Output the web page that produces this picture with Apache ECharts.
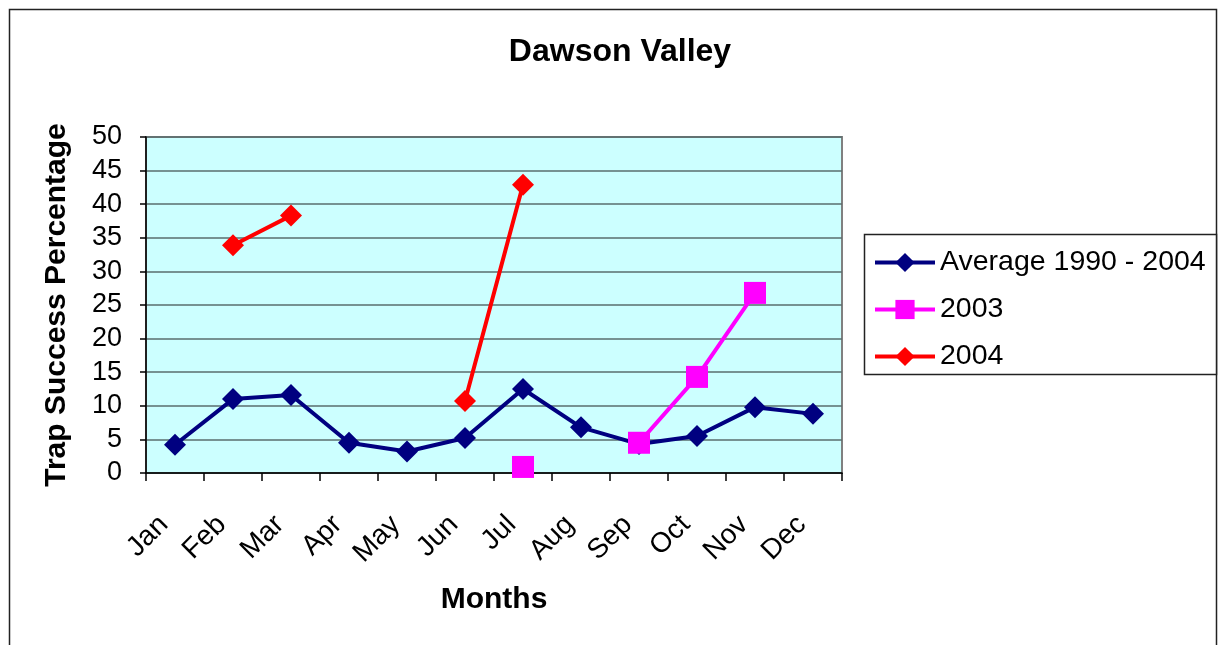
<!DOCTYPE html>
<html><head><meta charset="utf-8">
<script src="https://cdn.jsdelivr.net/npm/echarts@6/dist/echarts.min.js"></script>
<style>html,body{margin:0;padding:0;background:#fff}#c{width:1218px;height:645px}</style>
</head><body><div id="c"></div>
<script>
const months = ['Jan','Feb','Mar','Apr','May','Jun','Jul','Aug','Sep','Oct','Nov','Dec'];
const average = [4.2, 11.0, 11.6, 4.5, 3.2, 5.2, 12.5, 6.8, 4.3, 5.5, 9.8, 8.8];
const y2003 = [null, null, null, null, null, null, 0.9, null, 4.5, 14.3, 26.8, null];
const y2004 = [null, 33.9, 38.3, null, null, 10.7, 42.9, null, null, null, null, null];
const seriesNames = ['Average 1990 - 2004', '2003', '2004'];
const yTicks = {min: 0, max: 50, interval: 5};

const FONT = '"Liberation Sans", Arial, sans-serif';
const chart = echarts.init(document.getElementById('c'), null, {renderer: 'canvas'});
chart.setOption({
  animation: false,
  backgroundColor: '#fff',
  textStyle: {fontFamily: FONT},
  title: {
    text: 'Dawson Valley', left: 615, top: 31, textAlign: 'center',
    textStyle: {fontFamily: FONT, fontSize: 32, fontWeight: 'bold', color: '#000'}
  },
  graphic: [
    {type: 'rect', shape: {x: 9.5, y: 9.5, width: 1207, height: 660}, style: {fill: 'none', stroke: '#222', lineWidth: 1.5}, z: 0},
    {type: 'rect', shape: {x: 864.5, y: 234.5, width: 352, height: 140}, style: {fill: '#fff', stroke: '#222', lineWidth: 1.5}, z: 0}
  ],
  legend: {
    orient: 'vertical', left: 873, top: 248, padding: 0,
    itemWidth: 60, itemHeight: 24, itemGap: 18,
    lineStyle: {width: 4},
    textStyle: {fontFamily: FONT, fontSize: 28.5, color: '#000', lineHeight: 26},
    data: seriesNames, z: 5
  },
  grid: {left: 146, right: 376, top: 137, bottom: 172, show: true, backgroundColor: '#CCFFFF', borderColor: '#808080', borderWidth: 2, containLabel: false},
  xAxis: {
    type: 'category', data: months, boundaryGap: true,
    name: 'Months', nameLocation: 'middle', nameGap: 112,
    nameTextStyle: {fontFamily: FONT, fontSize: 30, fontWeight: 'bold', color: '#000'},
    axisLine: {lineStyle: {color: '#000', width: 1.5}},
    axisTick: {show: true, interval: 0, alignWithLabel: false, length: 8, lineStyle: {color: '#000', width: 1.5}},
    axisLabel: {interval: 0, rotate: 45, margin: 36, padding: [0, 16, 0, 0], fontFamily: FONT, fontSize: 28, color: '#000'},
    splitLine: {show: false}
  },
  yAxis: {
    type: 'value', min: yTicks.min, max: yTicks.max, interval: yTicks.interval,
    name: 'Trap Success Percentage', nameLocation: 'middle', nameGap: 74, nameRotate: 90,
    nameTextStyle: {fontFamily: FONT, fontSize: 30, fontWeight: 'bold', color: '#000'},
    axisLine: {show: true, lineStyle: {color: '#000', width: 1.5}},
    axisTick: {show: true, length: 6, lineStyle: {color: '#000', width: 1.5}},
    axisLabel: {margin: 24, fontFamily: FONT, fontSize: 27, color: '#000'},
    splitLine: {show: true, lineStyle: {color: '#5a6e6e', width: 1.5}}
  },
  series: [
    {name: seriesNames[0], type: 'line', data: average, connectNulls: false,
     symbol: 'diamond', symbolSize: 22, itemStyle: {color: '#000080'}, lineStyle: {color: '#000080', width: 4}, z: 3},
    {name: seriesNames[1], type: 'line', data: y2003, connectNulls: false,
     symbol: 'rect', symbolSize: 22, itemStyle: {color: '#FF00FF'}, lineStyle: {color: '#FF00FF', width: 4}, z: 4},
    {name: seriesNames[2], type: 'line', data: y2004, connectNulls: false,
     symbol: 'diamond', symbolSize: 22, itemStyle: {color: '#FF0000'}, lineStyle: {color: '#FF0000', width: 4}, z: 4}
  ]
});
</script></body></html>
